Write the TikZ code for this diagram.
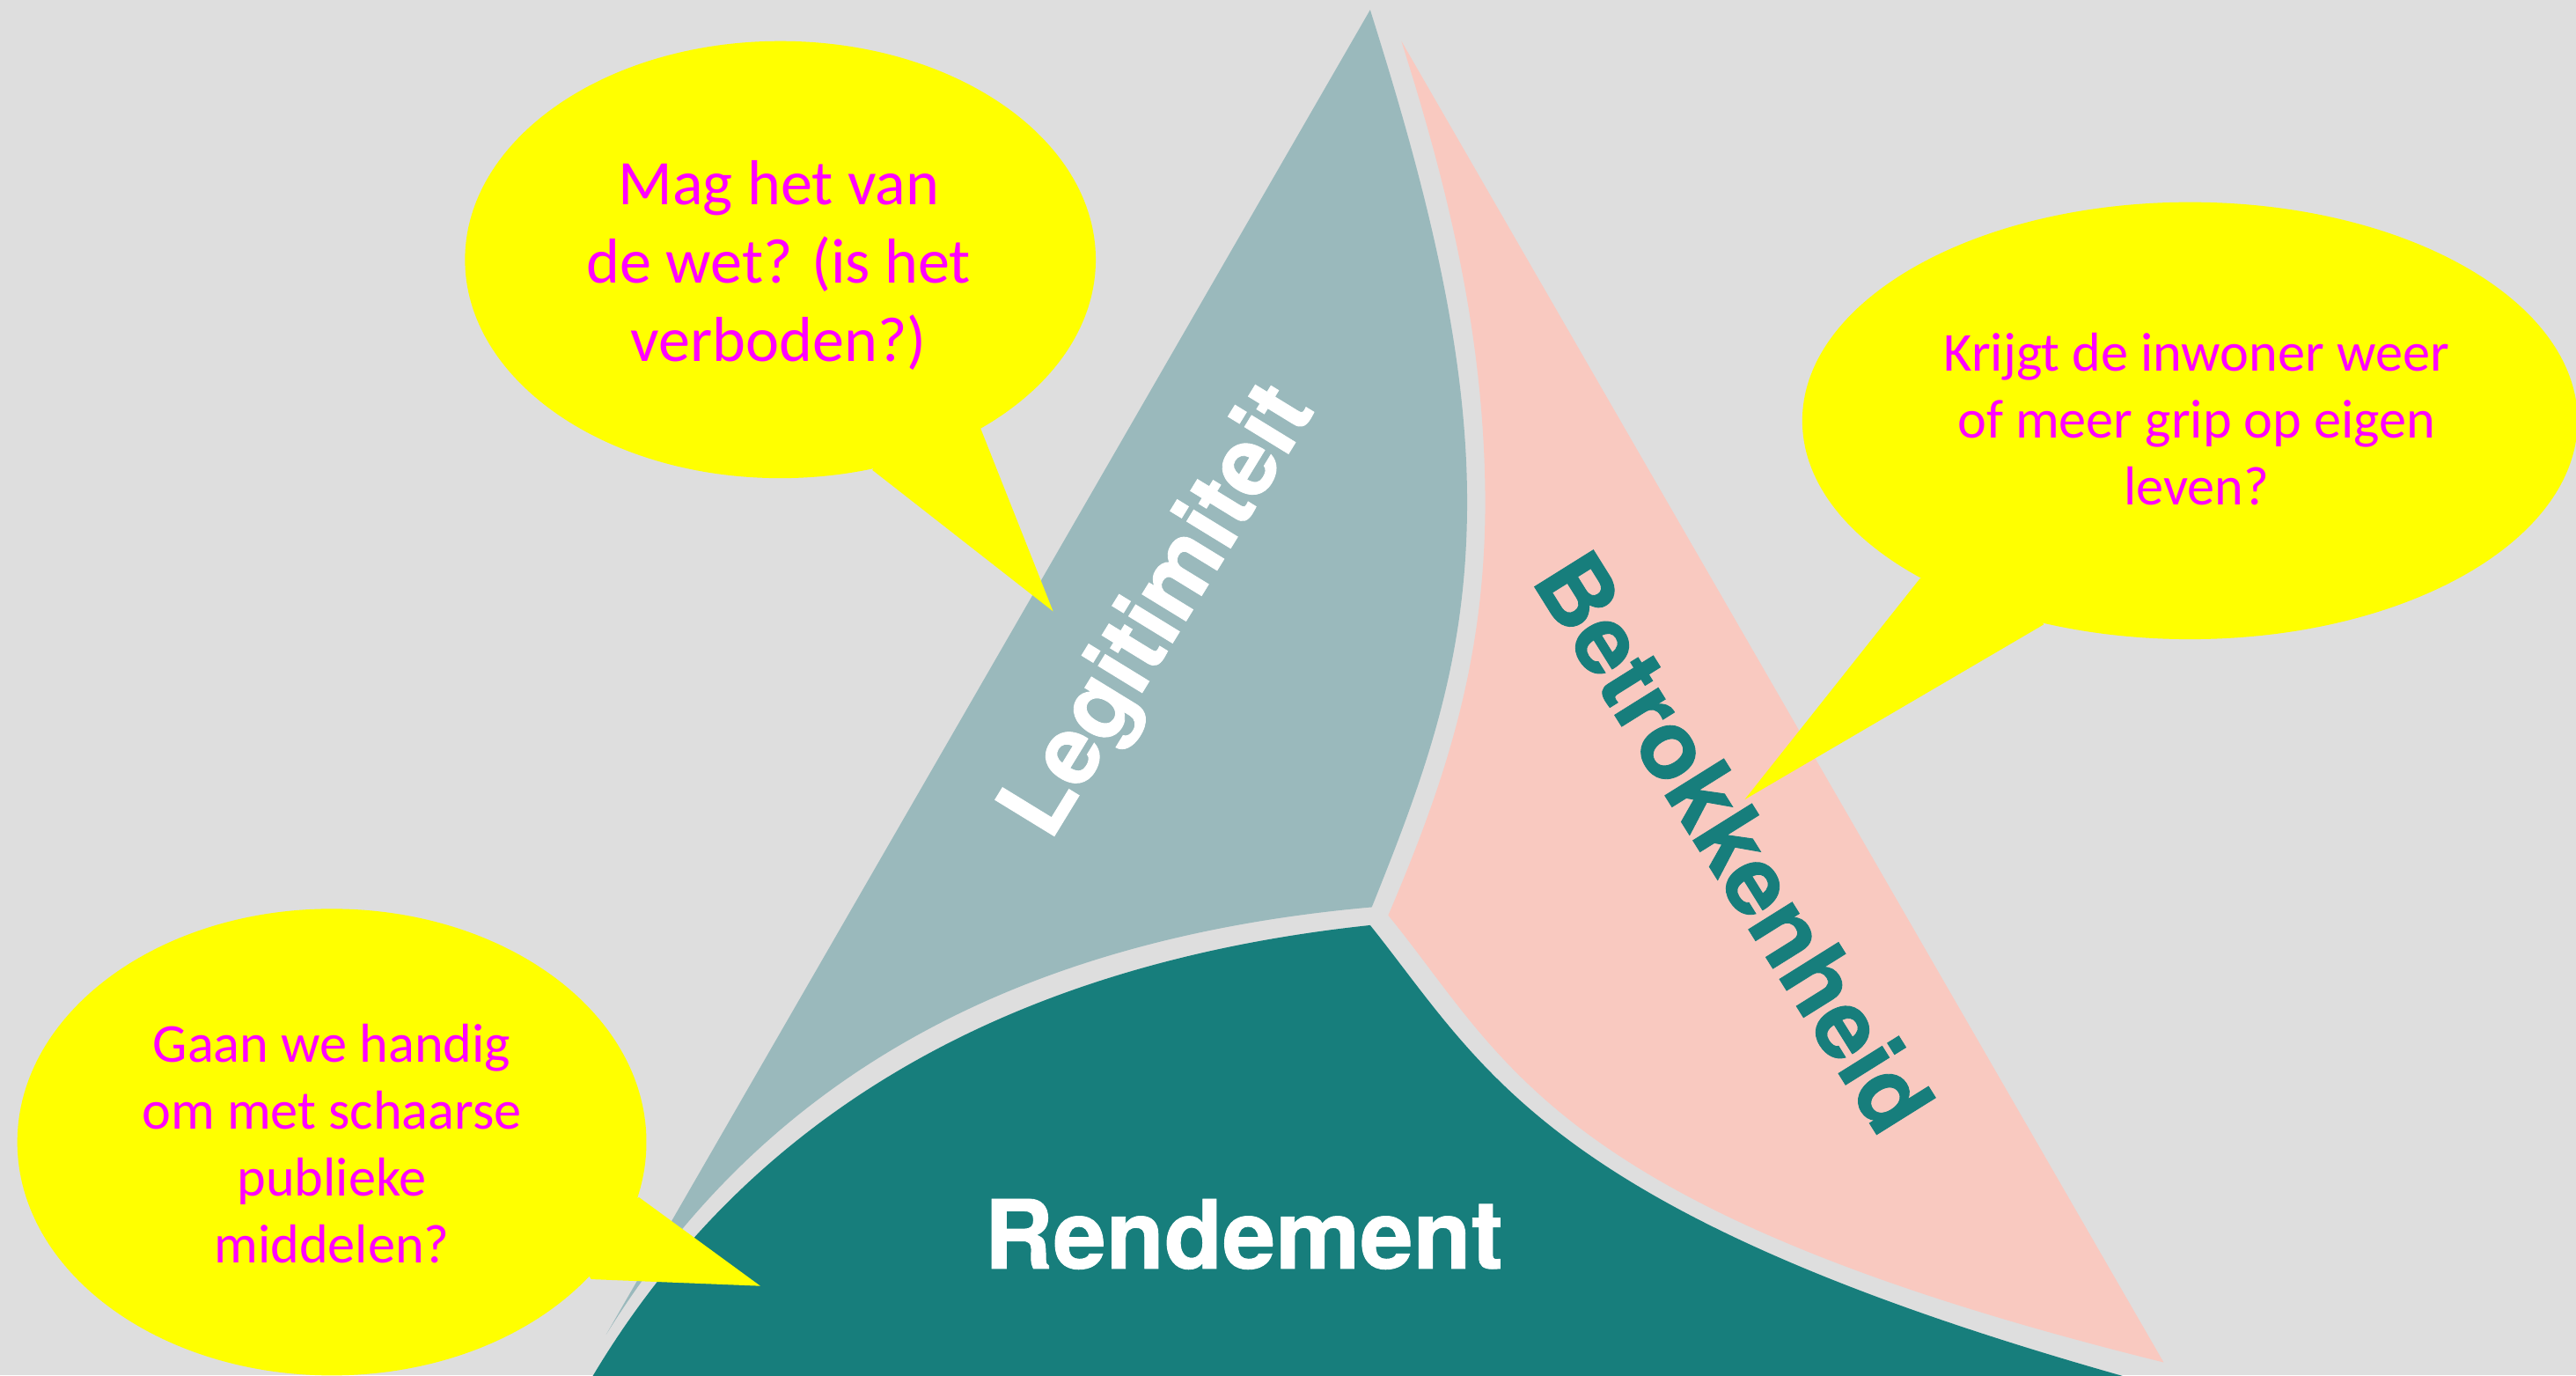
\documentclass[tikz,border=0pt]{standalone}
\usepackage{fontspec}
\setmainfont{Carlito}
\newfontfamily\labelfont[BoldFeatures={FakeBold=0.8}]{TeX Gyre Heros}
\usetikzlibrary{shapes.geometric}
\definecolor{bgc}{HTML}{DEDEDE}
\definecolor{legitc}{HTML}{9AB9BC}
\definecolor{betrokc}{HTML}{F9C9C0}
\definecolor{rendc}{HTML}{177E7C}
\definecolor{bubblec}{HTML}{FFFF00}
\definecolor{qtextc}{HTML}{FF00FF}
\begin{document}
\begin{tikzpicture}[x=0.02cm,y=-0.02cm,
  bubble/.style={ellipse, fill=bubblec, inner sep=0pt, draw=none},
  tail/.style={fill=bubblec},
  qbig/.style={text=qtextc, align=center, inner sep=0pt, font=\fontsize{22}{27}\selectfont},
  qsmall/.style={text=qtextc, align=center, inner sep=0pt, font=\fontsize{19}{23.2}\selectfont},
  lbl/.style={font=\labelfont\bfseries\fontsize{33}{40}\selectfont, inner sep=0pt}]
\useasboundingbox (0,0) rectangle (1568,837);
\fill[bgc] (0,0) rectangle (1568,837);
\begin{scope}
\clip (0,0) rectangle (1568,837);
% Legitimiteit
\fill[legitc] (834,6) -- (369,812)
  .. controls (445,690) and (575,575) .. (835,552)
  .. controls (868,470) and (894,400) .. (893,300)
  .. controls (892,200) and (862,95) .. (834,6) -- cycle;
% Betrokkenheid
\fill[betrokc] (853,25) -- (1317,829)
  .. controls (945,737) and (917,645) .. (845,557)
  .. controls (880,475) and (905,400) .. (904,300)
  .. controls (903,200) and (880,110) .. (853,25) -- cycle;
% Rendement
\fill[rendc] (834,563)
  .. controls (904,650.5) and (941,738) .. (1291,837)
  -- (1340,852) -- (350,852) -- (361,837)
  .. controls (440,705) and (580,590) .. (834,563) -- cycle;
\end{scope}
% labels
\node[lbl, text=white, rotate=58.5] (lleg) at (707,373) {Legitimiteit};
\node[lbl, text=rendc, rotate=-58] (lbet) at (1056,512) {Betrokkenheid};
\node[lbl, text=white] (lrend) at (757,751) {Rendement};
% callouts
\begin{scope}
\clip (0,0) rectangle (1568,837);
\node[bubble, minimum width=7.68cm, minimum height=5.32cm] (bub1) at (475,158) {};
\coordinate (tip1) at (641,372);
\fill[tail] (560,240) -- (597,261) -- (tip1) -- (531,286) -- cycle;
\node[bubble, minimum width=9.44cm, minimum height=5.32cm] (bub2) at (1333,256) {};
\coordinate (tip2) at (1062,486.5);
\fill[tail] (1215,330) -- (1168.7,352) -- (tip2) -- (1244,380) -- cycle;
\node[bubble, minimum width=7.66cm, minimum height=5.68cm] (bub3) at (202,695) {};
\coordinate (tip3) at (462.8,782.5);
\fill[tail] (340,745) -- (389,728.6) -- (tip3) -- (359.8,778.4) -- cycle;
\end{scope}
\node[qbig] (q1) at (474,161.5) {Mag het van\\de wet? (is het\\verboden?)};
\node[qsmall] (q2) at (1337,255) {Krijgt de inwoner weer\\of meer grip op eigen\\leven?};
\node[qsmall] (q3) at (202,696) {Gaan we handig\\om met schaarse\\publieke\\middelen?};
\end{tikzpicture}
\end{document}
